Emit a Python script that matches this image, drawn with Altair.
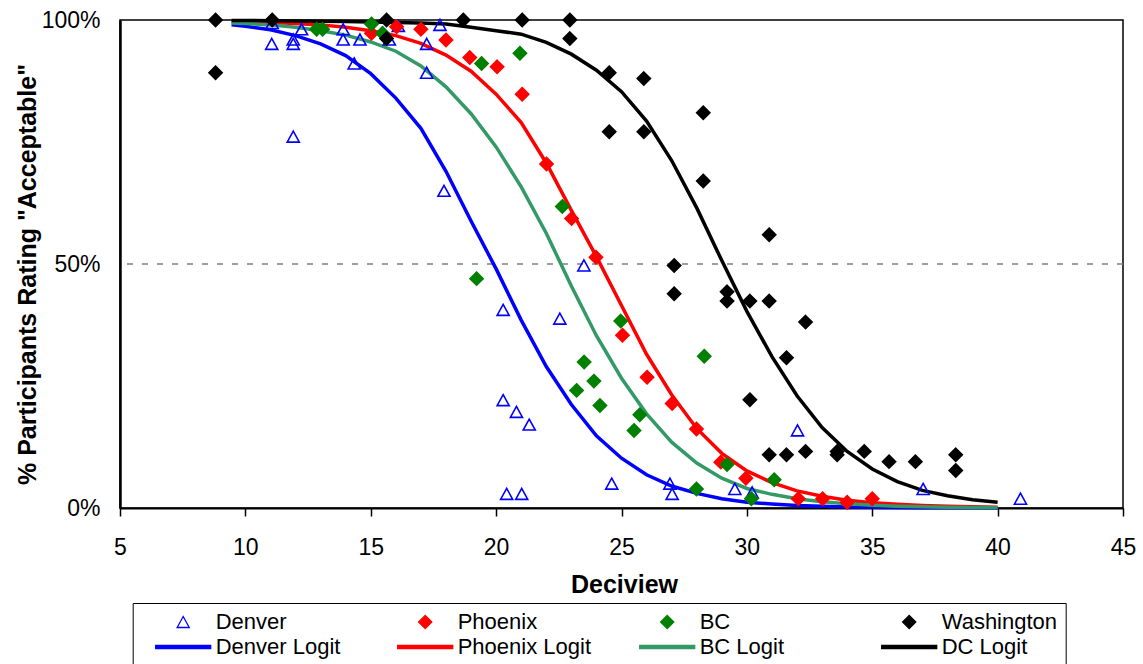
import altair as alt
import pandas as pd

# ---------------- data ----------------
denver_x = [11.05, 11.07, 11.91, 11.91, 12.24, 11.91, 13.90, 13.90, 14.57, 14.34, 16.10, 15.74,
            17.23, 17.23, 17.76, 17.92, 23.50, 20.28, 22.54, 20.28, 20.81, 21.32, 20.42, 21.02,
            24.61, 26.93, 27.02, 29.52, 30.21, 32.02, 37.03, 40.91]
denver_y = [95.1, 99.4, 96.0, 95.1, 98.1, 76.1, 98.1, 96.0, 96.0, 91.1, 98.8, 96.0,
            95.1, 89.2, 99.0, 65.0, 49.7, 40.6, 38.8, 22.1, 19.7, 17.1, 2.9, 2.9,
            5.0, 5.0, 2.9, 3.9, 3.2, 15.9, 3.9, 1.9]

phoenix_x = [15.03, 16.03, 17.00, 18.00, 18.95, 20.04, 21.04, 22.01, 23.01, 23.98, 25.04, 26.02,
             27.02, 27.99, 28.96, 29.96, 32.05, 33.02, 34.00, 35.00]
phoenix_y = [97.3, 98.6, 98.1, 95.9, 92.3, 90.4, 84.8, 70.5, 59.3, 51.4, 35.4, 26.8,
             21.4, 16.2, 9.4, 6.1, 1.9, 1.9, 1.2, 1.9]

bc_x = [12.84, 13.08, 15.03, 15.47, 19.42, 20.95, 22.64, 19.22, 24.97, 23.51, 23.90, 23.21,
        24.14, 28.30, 25.73, 25.50, 29.21, 27.99, 30.18, 31.09]
bc_y = [98.1, 98.1, 99.2, 97.3, 91.1, 93.2, 61.8, 47.0, 38.3, 29.9, 26.0, 24.1,
        21.0, 31.1, 19.1, 15.9, 8.9, 3.9, 1.9, 5.8]

washington_x = [8.81, 8.81, 11.07, 15.63, 15.63, 18.69, 21.04, 22.94, 22.94, 24.51, 25.89, 24.51,
                25.89, 28.26, 28.26, 30.89, 27.10, 27.10, 29.21, 29.21, 30.12, 30.89, 32.34, 31.58,
                30.12, 30.89, 31.58, 32.34, 33.60, 33.60, 34.68, 35.67, 36.72, 38.33, 38.33]
washington_y = [100.0, 89.2, 100.0, 100.0, 96.2, 100.0, 100.0, 100.0, 96.2, 89.2, 88.0, 77.1,
                77.1, 81.0, 67.0, 56.0, 49.7, 43.9, 44.3, 42.4, 42.4, 42.4, 38.1, 30.8,
                22.2, 10.9, 10.9, 11.6, 11.6, 10.9, 11.6, 9.5, 9.5, 10.9, 7.7]

curve_x = [9.45, 10, 11, 12, 13, 14, 15, 16, 17, 18, 19, 20, 21, 22, 23, 24, 25, 26, 27, 28,
           29, 30, 31, 32, 33, 34, 35, 36, 37, 38, 39, 40]
denver_logit = [99.0, 98.7, 98.0, 96.8, 95.1, 92.7, 89.0, 84.0, 77.8, 69.0, 58.8, 49.0, 38.5,
                29.0, 21.2, 14.8, 10.2, 6.8, 4.5, 3.0, 1.9, 1.2, 0.8, 0.5, 0.35, 0.22, 0.15,
                0.1, 0.06, 0.04, 0.03, 0.02]
phoenix_logit = [99.7, 99.65, 99.5, 99.3, 99.0, 98.5, 97.8, 96.8, 95.2, 92.8, 89.5, 84.8, 79.0,
                 70.7, 61.0, 51.5, 41.5, 31.5, 23.2, 16.3, 11.2, 7.6, 5.2, 3.5, 2.4, 1.6, 1.1,
                 0.75, 0.5, 0.35, 0.25, 0.17]
bc_logit = [99.4, 99.3, 99.0, 98.5, 97.8, 96.9, 95.5, 93.6, 90.6, 86.3, 80.8, 74.0, 65.8, 56.3,
            45.5, 35.3, 26.6, 19.3, 13.5, 9.2, 6.1, 4.0, 2.8, 1.9, 1.3, 0.85, 0.55, 0.36, 0.24,
            0.16, 0.1, 0.07]
dc_logit = [99.9, 99.9, 99.85, 99.8, 99.75, 99.7, 99.6, 99.5, 99.4, 99.2, 98.5, 97.8, 97.1, 95.4,
            93.0, 89.7, 85.3, 79.3, 71.2, 61.5, 50.7, 40.3, 31.0, 23.0, 16.5, 11.6, 8.0, 5.4,
            3.6, 2.5, 1.7, 1.2]

x_ticks = [5, 10, 15, 20, 25, 30, 35, 40, 45]
y_ticks = [0, 50, 100]

series_order = ["Denver", "Phoenix", "BC", "Washington",
                "Denver Logit", "Phoenix Logit", "BC Logit", "DC Logit"]

# ---------------- styles ----------------
stroke_colors = ["#0000FF", "#FF0000", "#008000", "#000000",
                 "#0000FF", "#FF0000", "#339966", "#000000"]
fill_colors = ["transparent", "#FF0000", "#008000", "#000000",
               "#0000FF", "#FF0000", "#339966", "#000000"]
TRI = "M0,-0.2L0.22,0.2L-0.22,0.2Z"
DIA = "M0,-0.24L0.24,0L0,0.24L-0.24,0Z"
BAR = "M-1,-0.055L1,-0.055L1,0.055L-1,0.055Z"
shapes = [TRI, DIA, DIA, DIA, BAR, BAR, BAR, BAR]

# ---------------- tables ----------------
pts_rows = []
for name, xs, ys in [("Denver", denver_x, denver_y), ("Phoenix", phoenix_x, phoenix_y),
                     ("BC", bc_x, bc_y), ("Washington", washington_x, washington_y)]:
    for i, (a, b) in enumerate(zip(xs, ys)):
        pts_rows.append({"series": name, "x": a, "y": b, "ord": len(pts_rows)})
pts = pd.DataFrame(pts_rows)

line_rows = []
for name, ys in [("Denver Logit", denver_logit), ("Phoenix Logit", phoenix_logit),
                 ("BC Logit", bc_logit), ("DC Logit", dc_logit)]:
    for a, b in zip(curve_x, ys):
        line_rows.append({"series": name, "x": a, "y": b})
lines = pd.DataFrame(line_rows)

FONT = "Liberation Sans"

xs = alt.Scale(domain=[5, 45], nice=False, zero=False)
ys = alt.Scale(domain=[0, 100], nice=False)

x_axis = alt.Axis(values=x_ticks, title="Deciview", grid=False, tickSize=8, tickColor="#000000",
                  tickWidth=1.5, domainColor="#000000", domainWidth=2, labelFontSize=23,
                  labelFont=FONT, labelColor="#000000", labelPadding=20, labelFlush=False,
                  titleFont=FONT, titleFontSize=25, titleFontWeight="bold", titleColor="#000000",
                  titleX=504, titleY=84, titleBaseline="alphabetic", titleAlign="center")
y_axis = alt.Axis(values=y_ticks, labelExpr="datum.value + '%'", title='% Participants Rating "Acceptable"',
                  grid=False, ticks=False, tickSize=0, domainColor="#000000", domainWidth=2.5,
                  labelFontSize=23, labelFont=FONT, labelColor="#000000", labelPadding=20,
                  labelFlush=False,
                  titleFont=FONT, titleFontSize=25, titleFontWeight="bold", titleColor="#000000",
                  titleAngle=270, titleBaseline="bottom", titleAlign="center",
                  titleX=-80, titleY=254)

stroke_scale = alt.Scale(domain=series_order, range=stroke_colors)
fill_scale = alt.Scale(domain=series_order, range=fill_colors)
shape_scale = alt.Scale(domain=series_order, range=shapes)

rule = alt.Chart(pd.DataFrame({"v": [50]})).mark_rule(
    color="#808080", strokeDash=[6, 9], strokeWidth=1.5
).encode(y=alt.Y("v:Q", scale=ys, axis=y_axis))

line_layer = alt.Chart(lines).mark_line(strokeWidth=3.5).encode(
    x=alt.X("x:Q", scale=xs, axis=x_axis),
    y=alt.Y("y:Q", scale=ys, axis=y_axis),
    stroke=alt.Stroke("series:N", scale=stroke_scale, title=None),
    detail="series:N",
)

point_layer = alt.Chart(pts).mark_point(filled=True, size=3025, strokeWidth=1.6, opacity=1).encode(
    x=alt.X("x:Q", scale=xs, axis=x_axis),
    y=alt.Y("y:Q", scale=ys, axis=y_axis),
    stroke=alt.Stroke("series:N", scale=stroke_scale, title=None),
    fill=alt.Fill("series:N", scale=fill_scale, title=None),
    shape=alt.Shape("series:N", scale=shape_scale, title=None),
    order=alt.Order("ord:Q"),
)

chart = alt.layer(rule, line_layer, point_layer).properties(
    width=1003, height=488,
    autosize=alt.AutoSizeParams(type="none"),
    padding={"left": 120, "top": 20, "right": 20, "bottom": 156},
).configure_view(
    stroke="#000000", strokeWidth=1.5
).configure_legend(
    orient="none", legendX=12.7, legendY=583, columns=4, direction="horizontal",
    symbolSize=3025, symbolStrokeWidth=1.3, clipHeight=22, symbolOffset=14,
    labelFont=FONT, labelFontSize=22, labelColor="#000000", labelOffset=4, labelLimit=300,
    gridAlign="all", columnPadding=33, rowPadding=3,
    strokeColor="#000000", padding=8, fillColor="#FFFFFF", cornerRadius=0,
)

chart.save("out.html", embed_options={"renderer": "svg", "actions": False})
